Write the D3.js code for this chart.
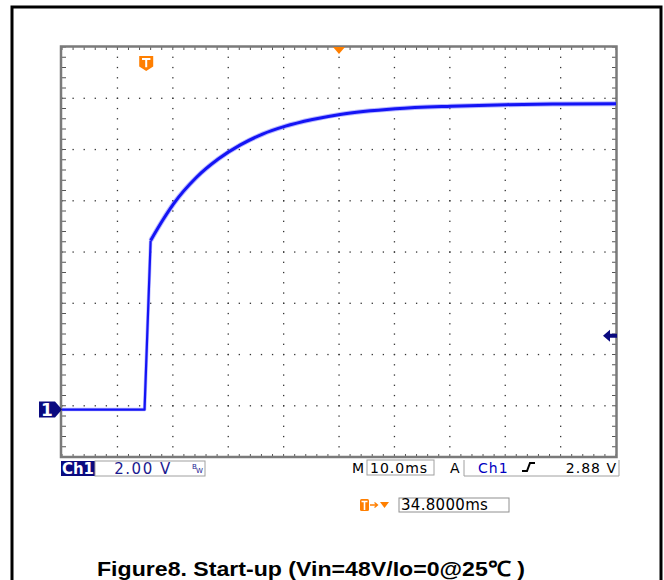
<!DOCTYPE html>
<html>
<head>
<meta charset="utf-8">
<script src="https://cdn.jsdelivr.net/npm/d3@7"></script>
<style>
  body { margin: 0; background: white; }
  svg { display: block; }
</style>
</head>
<body>
<div id="scope"></div>
<script>
// Data (time in ms from the trigger, volts on Ch1)
const timeMs = [-15.2, -0.3, 0.8, 3.0, 5.0, 9.0, 13.0, 17.0, 21.0, 25.0, 30.0, 35.0, 45.0, 55.0, 65.0, 75.0, 84.8]
const voltsV = [0, 0, 6.6, 7.4, 8.05, 9.05, 9.78, 10.33, 10.75, 11.05, 11.32, 11.52, 11.74, 11.84, 11.9, 11.93, 11.94]

// Scope settings / readouts
const timeDomain = [-15.2, 84.8]    // 10 divisions of 10 ms
const voltDomain = [-1.85, 14.15]   // 8 divisions of 2 V
const triggerLevel = 2.88
const triggerPosMs = 34.8
const readouts = {ch: 'Ch1', scale: '2.00 V', time: '10.0ms', trigCh: 'Ch1', trigLevel: '2.88 V', delay: '34.8000ms'}
const caption = 'Figure8. Start-up (Vin=48V/Io=0@25\u2103 )'

const W = 664, H = 580
const svg = d3.select('#scope').append('svg').attr('width', W).attr('height', H)

// outer frame
svg.append('rect')
  .attr('x', 12).attr('y', 7).attr('width', 649).attr('height', 600)
  .attr('fill', 'none').attr('stroke', 'black').attr('stroke-width', 3)

const plot = {left: 62, right: 616, top: 47, bottom: 457}
const x = d3.scaleLinear().domain(timeDomain).range([plot.left, plot.right])
const y = d3.scaleLinear().domain(voltDomain).range([plot.bottom, plot.top])

const xDiv = (timeDomain[1] - timeDomain[0]) / 10
const yDiv = (voltDomain[1] - voltDomain[0]) / 8

// graticule dots
const grid = svg.append('g')
const xMajor = d3.range(1, 10).map(k => timeDomain[0] + k * xDiv)
const yMajor = d3.range(1, 8).map(k => voltDomain[0] + k * yDiv)
const xMinor = d3.range(0, 51).map(k => timeDomain[0] + k * xDiv / 5)
const yMinor = d3.range(0, 41).map(k => voltDomain[0] + k * yDiv / 5)

let dots = []
xMajor.forEach(t => yMinor.forEach(v => dots.push([t, v])))
yMajor.forEach(v => xMinor.forEach(t => dots.push([t, v])))
grid.selectAll('rect.dot').data(dots).enter().append('rect')
  .attr('class', 'dot')
  .attr('x', d => x(d[0]) - 0.6).attr('y', d => y(d[1]) - 0.6)
  .attr('width', 1.3).attr('height', 1.3)
  .attr('fill', '#333')

// edge ticks
const ticks = svg.append('g').attr('stroke', '#555').attr('stroke-width', 1)
xMinor.forEach(t => {
  ticks.append('line').attr('x1', x(t)).attr('x2', x(t)).attr('y1', plot.top).attr('y2', plot.top + 3)
  ticks.append('line').attr('x1', x(t)).attr('x2', x(t)).attr('y1', plot.bottom).attr('y2', plot.bottom - 3)
})
yMinor.forEach(v => {
  ticks.append('line').attr('x1', plot.left).attr('x2', plot.left + 4).attr('y1', y(v)).attr('y2', y(v))
  ticks.append('line').attr('x1', plot.right).attr('x2', plot.right - 4).attr('y1', y(v)).attr('y2', y(v))
})

// graticule border
svg.append('rect')
  .attr('x', plot.left - 1).attr('y', plot.top - 0.5)
  .attr('width', plot.right - plot.left + 1.5).attr('height', plot.bottom - plot.top + 0.5)
  .attr('fill', 'none').attr('stroke', '#7a7a7a').attr('stroke-width', 2.5)

// trace: straight turn-on edge, then the smooth charging curve
const riseIdx = d3.range(0, 3)
const tailIdx = d3.range(2, timeMs.length)
const riseLine = d3.line().x(i => x(timeMs[i])).y(i => y(voltsV[i])).curve(d3.curveLinear)
const tailLine = d3.line().x(i => x(timeMs[i])).y(i => y(voltsV[i])).curve(d3.curveMonotoneX)

const trace = svg.append('g').attr('fill', 'none').attr('stroke-linejoin', 'round')
;[riseIdx, tailIdx].forEach((idx, k) => {
  const gen = k === 0 ? riseLine : tailLine
  trace.append('path').datum(idx).attr('d', gen)
    .attr('stroke', '#8080ff').attr('stroke-width', k === 0 ? 3.5 : 5).attr('opacity', 0.55)
  trace.append('path').datum(idx).attr('d', gen)
    .attr('stroke', '#1414f5').attr('stroke-width', k === 0 ? 2.2 : 3)
})

// ground marker "1"
const gy = y(0)
svg.append('path')
  .attr('d', `M 39 ${gy - 8} L 55 ${gy - 8} L 62 ${gy} L 55 ${gy + 8} L 39 ${gy + 8} Z`)
  .attr('fill', '#0a0a80')
svg.append('text').attr('x', 47).attr('y', gy + 6.5)
  .attr('text-anchor', 'middle').attr('fill', 'white')
  .style('font', 'bold 17px "DejaVu Sans"').text('1')

// trigger level arrow on the right
const ty = y(triggerLevel)
svg.append('path')
  .attr('d', `M 603 ${ty} L 610 ${ty - 6} L 610 ${ty - 2} L 617 ${ty - 2} L 617 ${ty + 2} L 610 ${ty + 2} L 610 ${ty + 6} Z`)
  .attr('fill', '#0a0a80')

// trigger position "T" icon and horizontal position triangle
function tIcon(g, cx, top, w, h) {
  g.append('path')
    .attr('d', `M ${cx - w / 2} ${top} L ${cx + w / 2} ${top} L ${cx + w / 2} ${top + h * 0.7} L ${cx} ${top + h} L ${cx - w / 2} ${top + h * 0.7} Z`)
    .attr('fill', '#ff7f00')
  g.append('path')
    .attr('d', `M ${cx - w * 0.3} ${top + h * 0.2} L ${cx + w * 0.3} ${top + h * 0.2} M ${cx} ${top + h * 0.2} L ${cx} ${top + h * 0.75}`)
    .attr('stroke', 'white').attr('stroke-width', 2).attr('fill', 'none')
}
tIcon(svg, x(0), 56, 14, 15)
const cx = x(triggerPosMs)
svg.append('path')
  .attr('d', `M ${cx - 6} ${plot.top} L ${cx + 6} ${plot.top} L ${cx} ${plot.top + 7} Z`)
  .attr('fill', '#ff7f00')

// status bar
const font = '14px "DejaVu Sans"'
svg.append('rect').attr('x', 61).attr('y', 461).attr('width', 34).attr('height', 15).attr('fill', '#0a0a80')
svg.append('text').attr('x', 78).attr('y', 474).attr('text-anchor', 'middle').attr('fill', 'white')
  .style('font', 'bold 15px "DejaVu Sans"').text(readouts.ch)
svg.append('rect').attr('x', 95).attr('y', 461).attr('width', 110).attr('height', 15)
  .attr('fill', 'none').attr('stroke', '#a0a0a0').attr('stroke-width', 1)
svg.append('text').attr('x', 143).attr('y', 474).attr('text-anchor', 'middle').attr('fill', '#1a1a90')
  .style('font', '15px "DejaVu Sans"').style('letter-spacing', '1.5px').text(readouts.scale)
svg.append('text').attr('x', 192).attr('y', 469).attr('fill', '#1a1a90').style('font', '7px "DejaVu Sans"').text('B')
svg.append('text').attr('x', 196).attr('y', 473).attr('fill', '#1a1a90').style('font', '7px "DejaVu Sans"').text('W')

svg.append('text').attr('x', 352).attr('y', 473).attr('fill', 'black').style('font', font).text('M')
svg.append('rect').attr('x', 367).attr('y', 460).attr('width', 67).attr('height', 15)
  .attr('fill', 'none').attr('stroke', '#a0a0a0').attr('stroke-width', 1)
svg.append('text').attr('x', 370).attr('y', 473).attr('fill', 'black')
  .style('font', font).style('letter-spacing', '1px').text(readouts.time)
svg.append('text').attr('x', 450).attr('y', 473).attr('fill', 'black').style('font', font).text('A')
svg.append('path').attr('d', 'M 464 460 L 464 476 L 619 476 L 619 460')
  .attr('fill', 'none').attr('stroke', '#a0a0a0').attr('stroke-width', 1)
svg.append('text').attr('x', 478).attr('y', 473).attr('fill', '#0000c0')
  .style('font', font).style('letter-spacing', '1px').text(readouts.trigCh)
svg.append('path').attr('d', 'M 522 471 L 527 471 L 530 463 L 535 463')
  .attr('fill', 'none').attr('stroke', 'black').attr('stroke-width', 2)
svg.append('text').attr('x', 617).attr('y', 473).attr('text-anchor', 'end').attr('fill', 'black')
  .style('font', font).style('letter-spacing', '1px').text(readouts.trigLevel)

// trigger delay readout
const dg = svg.append('g')
dg.append('rect').attr('x', 360).attr('y', 499).attr('width', 9).attr('height', 12).attr('rx', 1.5).attr('fill', '#ff7f00')
dg.append('path').attr('d', 'M 361.5 501.5 L 367.5 501.5 M 364.5 501.5 L 364.5 510')
  .attr('stroke', 'white').attr('stroke-width', 1.6)
dg.append('path').attr('d', 'M 370 505 L 377 505 M 374.5 502.5 L 377.5 505 L 374.5 507.5')
  .attr('stroke', '#ff7f00').attr('stroke-width', 1.3).attr('fill', 'none')
dg.append('path').attr('d', 'M 380 502 L 389 502 L 384.5 508 Z').attr('fill', '#ff7f00')
dg.append('rect').attr('x', 399).attr('y', 498).attr('width', 110).attr('height', 14)
  .attr('fill', 'none').attr('stroke', '#909090').attr('stroke-width', 1)
dg.append('text').attr('x', 401).attr('y', 510).attr('fill', 'black')
  .style('font', '15px "DejaVu Sans"').style('letter-spacing', '0.3px').text(readouts.delay)

// caption
svg.append('text').attr('x', 97).attr('y', 576)
  .attr('textLength', 428).attr('lengthAdjust', 'spacingAndGlyphs')
  .attr('fill', 'black').style('font', 'bold 21px "Liberation Sans", Arial, sans-serif')
  .text(caption)
</script>
</body>
</html>
